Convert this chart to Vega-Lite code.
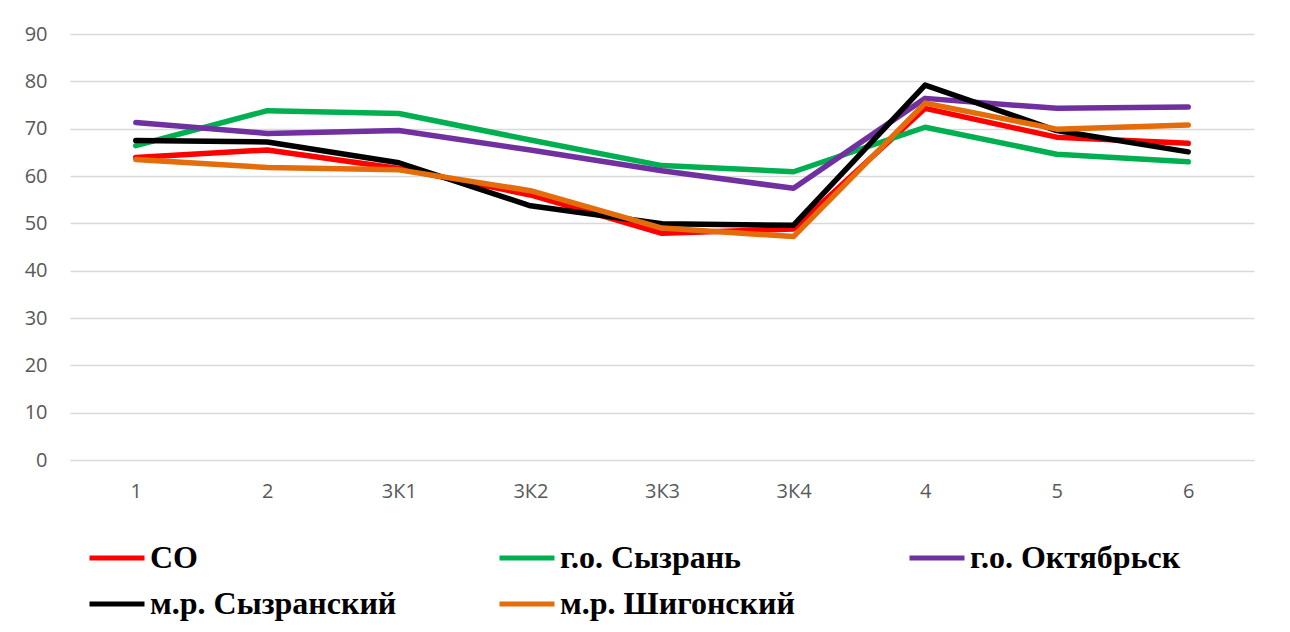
{
  "$schema": "https://vega.github.io/schema/vega-lite/v6.json",
  "autosize": "none",
  "padding": {"left": 70, "top": 34, "right": 36, "bottom": 172},
  "width": 1184,
  "height": 426,
  "background": "#ffffff",
  "config": {"view": {"stroke": null}},
  "data": {"values": [
    {"cat": "1", "s": "СО", "v": 63.9},
    {"cat": "2", "s": "СО", "v": 65.5},
    {"cat": "3К1", "s": "СО", "v": 61.6},
    {"cat": "3К2", "s": "СО", "v": 56.0},
    {"cat": "3К3", "s": "СО", "v": 47.9},
    {"cat": "3К4", "s": "СО", "v": 48.8},
    {"cat": "4", "s": "СО", "v": 74.3},
    {"cat": "5", "s": "СО", "v": 68.2},
    {"cat": "6", "s": "СО", "v": 66.9},
    {"cat": "1", "s": "г.о. Сызрань", "v": 66.4},
    {"cat": "2", "s": "г.о. Сызрань", "v": 73.8},
    {"cat": "3К1", "s": "г.о. Сызрань", "v": 73.2},
    {"cat": "3К2", "s": "г.о. Сызрань", "v": 67.6},
    {"cat": "3К3", "s": "г.о. Сызрань", "v": 62.2},
    {"cat": "3К4", "s": "г.о. Сызрань", "v": 60.9},
    {"cat": "4", "s": "г.о. Сызрань", "v": 70.3},
    {"cat": "5", "s": "г.о. Сызрань", "v": 64.6},
    {"cat": "6", "s": "г.о. Сызрань", "v": 63.0},
    {"cat": "1", "s": "г.о. Октябрьск", "v": 71.3},
    {"cat": "2", "s": "г.о. Октябрьск", "v": 69.0},
    {"cat": "3К1", "s": "г.о. Октябрьск", "v": 69.6},
    {"cat": "3К2", "s": "г.о. Октябрьск", "v": 65.5},
    {"cat": "3К3", "s": "г.о. Октябрьск", "v": 61.1},
    {"cat": "3К4", "s": "г.о. Октябрьск", "v": 57.4},
    {"cat": "4", "s": "г.о. Октябрьск", "v": 76.4},
    {"cat": "5", "s": "г.о. Октябрьск", "v": 74.3},
    {"cat": "6", "s": "г.о. Октябрьск", "v": 74.6},
    {"cat": "1", "s": "м.р. Сызранский", "v": 67.5},
    {"cat": "2", "s": "м.р. Сызранский", "v": 67.2},
    {"cat": "3К1", "s": "м.р. Сызранский", "v": 62.8},
    {"cat": "3К2", "s": "м.р. Сызранский", "v": 53.7},
    {"cat": "3К3", "s": "м.р. Сызранский", "v": 49.9},
    {"cat": "3К4", "s": "м.р. Сызранский", "v": 49.6},
    {"cat": "4", "s": "м.р. Сызранский", "v": 79.2},
    {"cat": "5", "s": "м.р. Сызранский", "v": 69.6},
    {"cat": "6", "s": "м.р. Сызранский", "v": 65.1},
    {"cat": "1", "s": "м.р. Шигонский", "v": 63.5},
    {"cat": "2", "s": "м.р. Шигонский", "v": 61.8},
    {"cat": "3К1", "s": "м.р. Шигонский", "v": 61.3},
    {"cat": "3К2", "s": "м.р. Шигонский", "v": 56.9},
    {"cat": "3К3", "s": "м.р. Шигонский", "v": 49.0},
    {"cat": "3К4", "s": "м.р. Шигонский", "v": 47.2},
    {"cat": "4", "s": "м.р. Шигонский", "v": 75.4},
    {"cat": "5", "s": "м.р. Шигонский", "v": 69.9},
    {"cat": "6", "s": "м.р. Шигонский", "v": 70.8}
  ]},
  "mark": {"type": "line", "strokeWidth": 5.5, "strokeCap": "round", "strokeJoin": "round"},
  "encoding": {
    "x": {
      "field": "cat", "type": "ordinal",
      "sort": ["1", "2", "3К1", "3К2", "3К3", "3К4", "4", "5", "6"],
      "scale": {"type": "point", "padding": 0.5},
      "axis": {"title": null, "domain": false, "ticks": false, "labelAngle": 0,
        "labelFont": "Open Sans", "labelFontSize": 20, "labelColor": "#595959", "labelPadding": 21}
    },
    "y": {
      "field": "v", "type": "quantitative",
      "scale": {"domain": [0, 90], "nice": false},
      "axis": {"title": null, "domain": false, "ticks": false,
        "values": [0, 10, 20, 30, 40, 50, 60, 70, 80, 90],
        "grid": true, "gridColor": "#D9D9D9", "gridWidth": 1.5,
        "labelFont": "Open Sans", "labelFontSize": 20, "labelColor": "#595959", "labelPadding": 23}
    },
    "color": {
      "field": "s", "type": "nominal",
      "scale": {
        "domain": ["СО", "г.о. Сызрань", "г.о. Октябрьск", "м.р. Сызранский", "м.р. Шигонский"],
        "range": ["#FF0000", "#00B050", "#7030A0", "#000000", "#E46C0A"]
      },
      "legend": {
        "title": null, "orient": "none", "legendX": 17, "legendY": 494,
        "direction": "horizontal", "columns": 3, "gridAlign": "all",
        "columnPadding": 92, "rowPadding": -5,
        "symbolType": "stroke", "symbolSize": 3025, "symbolStrokeWidth": 5,
        "labelFont": "Liberation Serif", "labelFontWeight": "bold", "labelFontSize": 32,
        "labelColor": "#000000", "labelOffset": 3, "labelLimit": 400
      }
    },
    "order": {"field": "s"}
  }
}
